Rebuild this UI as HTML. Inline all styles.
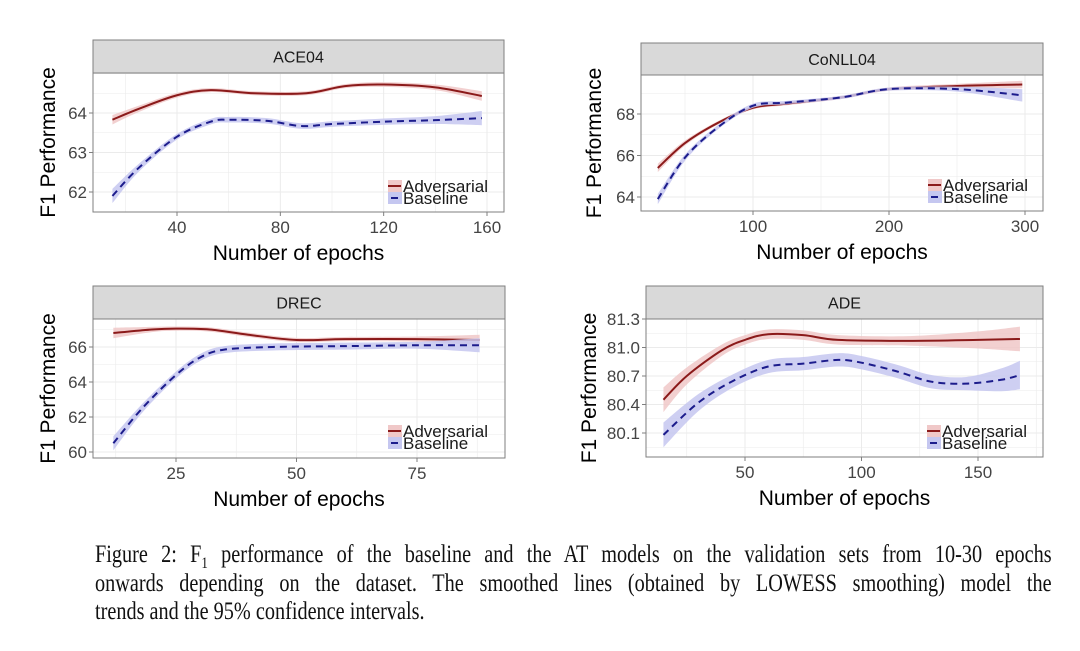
<!DOCTYPE html>
<html><head><meta charset="utf-8"><style>
body{margin:0;background:#fff;width:1080px;height:651px;overflow:hidden;font-family:"Liberation Sans",sans-serif}
svg{position:absolute;left:0;top:0}
.cap{position:absolute;left:95px;width:1181px;transform:scaleX(0.81);transform-origin:left top;font-family:"Liberation Serif",serif;font-size:25px;color:#111;white-space:nowrap}
.j{text-align:justify;text-align-last:justify}
</style></head><body>
<svg id="fig" width="1080" height="651" xmlns="http://www.w3.org/2000/svg"></svg>
<div class="cap j" style="top:541px">Figure 2: F<sub style="font-size:16px">1</sub> performance of the baseline and the AT models on the validation sets from 10-30 epochs</div>
<div class="cap j" style="top:570px">onwards depending on the dataset. The smoothed lines (obtained by LOWESS smoothing) model the</div>
<div class="cap" style="top:598px">trends and the 95% confidence intervals.</div>
<script>
// ACE04
const aceAdvX=[15,25,40,53,70,90,105,120,140,158];
const aceAdvY=[63.83,64.1,64.45,64.58,64.5,64.5,64.68,64.72,64.65,64.43];
const aceAdvW=[0.12,0.08,0.06,0.05,0.05,0.05,0.05,0.06,0.07,0.12];
const aceBaseX=[15,25,40,53,60,75,88,100,120,140,158];
const aceBaseY=[61.9,62.6,63.4,63.78,63.83,63.8,63.67,63.72,63.78,63.82,63.87];
const aceBaseW=[0.18,0.1,0.07,0.07,0.07,0.07,0.07,0.07,0.08,0.1,0.18];
const aceXTicks=[40,80,120,160];const aceYTicks=[62,63,64];
// CoNLL04
const conAdvX=[30,50,75,100,125,165,200,250,298];
const conAdvY=[65.4,66.6,67.6,68.3,68.5,68.8,69.2,69.35,69.42];
const conAdvW=[0.2,0.12,0.08,0.08,0.08,0.08,0.08,0.1,0.18];
const conBaseX=[30,50,75,100,125,165,200,250,298];
const conBaseY=[63.9,65.9,67.4,68.4,68.55,68.8,69.2,69.2,68.9];
const conBaseW=[0.25,0.15,0.1,0.1,0.08,0.08,0.08,0.12,0.3];
const conXTicks=[100,200,300];const conYTicks=[64,66,68];
// DREC
const drecAdvX=[12,20,25,32,40,50,60,75,88];
const drecAdvY=[66.8,67.0,67.05,67.0,66.7,66.4,66.45,66.45,66.4];
const drecAdvW=[0.3,0.15,0.12,0.12,0.12,0.12,0.12,0.15,0.3];
const drecBaseX=[12,18,25,30,35,45,60,75,88];
const drecBaseY=[60.5,62.5,64.4,65.4,65.85,66.0,66.05,66.1,66.1];
const drecBaseW=[0.4,0.25,0.2,0.2,0.2,0.2,0.2,0.2,0.4];
const drecXTicks=[25,50,75];const drecYTicks=[60,62,64,66];
// ADE
const adeAdvX=[15,25,40,50,60,75,90,120,150,168];
const adeAdvY=[80.45,80.7,80.97,81.08,81.14,81.13,81.08,81.07,81.08,81.09];
const adeAdvW=[0.13,0.09,0.06,0.05,0.05,0.05,0.05,0.05,0.09,0.13];
const adeBaseX=[15,30,45,60,75,90,100,115,130,145,160,168];
const adeBaseY=[80.08,80.42,80.65,80.8,80.83,80.87,80.84,80.75,80.64,80.62,80.66,80.71];
const adeBaseW=[0.13,0.09,0.07,0.07,0.07,0.07,0.07,0.07,0.07,0.07,0.12,0.15];
const adeXTicks=[50,100,150];const adeYTicks=[80.1,80.4,80.7,81.0,81.3];

const NS="http://www.w3.org/2000/svg";const svg=document.getElementById('fig');
function mk(tag,at,par){const e=document.createElementNS(NS,tag);for(const k in at)e.setAttribute(k,at[k]);(par||svg).appendChild(e);return e;}
function curve(pts){let d="M"+pts[0][0]+","+pts[0][1];for(let i=0;i<pts.length-1;i++){const p0=pts[Math.max(0,i-1)],p1=pts[i],p2=pts[i+1],p3=pts[Math.min(pts.length-1,i+2)];const c1x=p1[0]+(p2[0]-p0[0])/6,c1y=p1[1]+(p2[1]-p0[1])/6,c2x=p2[0]-(p3[0]-p1[0])/6,c2y=p2[1]-(p3[1]-p1[1])/6;d+=" C"+c1x+","+c1y+" "+c2x+","+c2y+" "+p2[0]+","+p2[1];}return d;}
function panel(o){
 const g=mk('g',{});
 const sx=v=>o.px0+(v-o.x0)*(o.px1-o.px0)/(o.x1-o.x0);
 const sy=v=>o.py0+(v-o.y0)*(o.py1-o.py0)/(o.y1-o.y0);
 const s=mk('rect',{x:o.L,y:o.ST,width:o.R-o.L,height:o.T-o.ST,fill:'#d9d9d9',stroke:'#7f7f7f','stroke-width':1},g);
 
 const st=mk('text',{x:(o.L+o.R)/2,y:(o.ST+o.T)/2+6,'text-anchor':'middle','font-size':16,fill:'#1a1a1a'},g);st.textContent=o.title;
 
 mk('rect',{x:o.L,y:o.T,width:o.R-o.L,height:o.B-o.T,fill:'#fff'},g);
 const cp='c'+o.id;const cl=mk('clipPath',{id:cp},g);mk('rect',{x:o.L,y:o.T,width:o.R-o.L,height:o.B-o.T},cl);
 const xs=o.xt,ys=o.yt;const dx=xs[1]-xs[0],dy=ys[1]-ys[0];
 for(let v=xs[0]-dx*2;v<=xs[xs.length-1]+dx;v+=dx/2){const X=sx(v);if(X>o.L&&X<o.R)mk('line',{x1:X,x2:X,y1:o.T,y2:o.B,stroke:'#ebebeb','stroke-width':Math.abs((v-xs[0])/dx%1)<1e-6?1:0.6},g);}
 for(let v=ys[0]-dy*2;v<=ys[ys.length-1]+dy;v+=dy/2){const Y=sy(v);if(Y>o.T&&Y<o.B)mk('line',{x1:o.L,x2:o.R,y1:Y,y2:Y,stroke:'#ebebeb','stroke-width':Math.abs(((v-ys[0])/dy)%1)<1e-6?1:0.6},g);}
 const series=[[o.aX,o.aY,o.aW,'#f0c8c8','#8b1a1a',null,'adversarial'],[o.bX,o.bY,o.bW,'#c5c7f0','#1c1c8c','7,5','baseline']];
 for(const [X,Y,W,fc,lc,da,nm] of series){
  const up=X.map((x,i)=>[sx(x),sy(Y[i]+W[i])]),lo=X.map((x,i)=>[sx(x),sy(Y[i]-W[i])]).reverse();
  const band=curve(up)+" L"+lo[0][0]+","+lo[0][1]+curve(lo).slice(curve(lo).indexOf(' '))+"Z";
  const b=mk('path',{d:band,fill:fc,opacity:0.85,'clip-path':'url(#'+cp+')'},g);
  
  const l=mk('path',{d:curve(X.map((x,i)=>[sx(x),sy(Y[i])])),fill:'none',stroke:lc,'stroke-width':2,'stroke-dasharray':da||'none','clip-path':'url(#'+cp+')'},g);
  
 }
 mk('rect',{x:o.L,y:o.T,width:o.R-o.L,height:o.B-o.T,fill:'none',stroke:'#7f7f7f','stroke-width':1},g);
 for(const v of xs){const X=sx(v);mk('line',{x1:X,x2:X,y1:o.B,y2:o.B+4,stroke:'#7f7f7f'},g);
  const t=mk('text',{x:X,y:o.B+21,'text-anchor':'middle','font-size':17,fill:'#444'},g);t.textContent=v;
  }
 for(const v of ys){const Y=sy(v);mk('line',{x1:o.L-4,x2:o.L,y1:Y,y2:Y,stroke:'#7f7f7f'},g);
  const t=mk('text',{x:o.L-6,y:Y+6,'text-anchor':'end','font-size':17,fill:'#444'},g);t.textContent=o.yl?v.toFixed(1):v;
  }
 const xt=mk('text',{x:(o.L+o.R)/2,y:o.B+48,'text-anchor':'middle','font-size':21,fill:'#000'},g);xt.textContent='Number of epochs';
 
 const cy=(o.T+o.B)/2;const yt=mk('text',{x:o.ytx,y:cy,'text-anchor':'middle','font-size':21,fill:'#000',transform:'rotate(-90 '+o.ytx+' '+cy+')'},g);yt.textContent='F1 Performance';
 
 const lg=mk('g',{},g);
 const lx=o.lgx,ly=o.lgy;
 mk('rect',{x:lx,y:ly,width:14,height:12,fill:'#f0c8c8'},lg);mk('line',{x1:lx,x2:lx+13,y1:ly+6,y2:ly+6,stroke:'#8b1a1a','stroke-width':2},lg);
 mk('rect',{x:lx,y:ly+12,width:14,height:12,fill:'#c5c7f0'},lg);mk('line',{x1:lx+3,x2:lx+10,y1:ly+18,y2:ly+18,stroke:'#1c1c8c','stroke-width':2},lg);
 const a=mk('text',{x:lx+15,y:ly+12,'font-size':17,fill:'#1a1a1a'},lg);a.textContent='Adversarial';
 const bb=mk('text',{x:lx+15,y:ly+24,'font-size':17,fill:'#1a1a1a'},lg);bb.textContent='Baseline';
}
panel({id:'ace04',title:'ACE04',L:93,R:504,ST:40,T:73,B:212,x0:40,x1:160,px0:177,px1:487,y0:62,y1:64,py0:192,py1:113,xt:aceXTicks,yt:aceYTicks,aX:aceAdvX,aY:aceAdvY,aW:aceAdvW,bX:aceBaseX,bY:aceBaseY,bW:aceBaseW,ytx:55,lgx:388,lgy:180});
panel({id:'conll04',title:'CoNLL04',L:641,R:1043,ST:43,T:75,B:211,x0:100,x1:300,px0:753,px1:1025,y0:64,y1:68,py0:197,py1:114,xt:conXTicks,yt:conYTicks,aX:conAdvX,aY:conAdvY,aW:conAdvW,bX:conBaseX,bY:conBaseY,bW:conBaseW,ytx:601,lgx:928,lgy:179});
panel({id:'drec',title:'DREC',L:93,R:505,ST:286,T:319,B:458,x0:25,x1:75,px0:176,px1:417,y0:60,y1:66,py0:452,py1:347,xt:drecXTicks,yt:drecYTicks,aX:drecAdvX,aY:drecAdvY,aW:drecAdvW,bX:drecBaseX,bY:drecBaseY,bW:drecBaseW,ytx:55,lgx:388,lgy:425});
panel({id:'ade',title:'ADE',L:646,R:1043,ST:286,T:319,B:457,x0:50,x1:150,px0:745,px1:978,y0:80.1,y1:81.3,py0:433,py1:319,xt:adeXTicks,yt:adeYTicks,yl:true,aX:adeAdvX,aY:adeAdvY,aW:adeAdvW,bX:adeBaseX,bY:adeBaseY,bW:adeBaseW,ytx:596,lgx:927,lgy:425});
</script>
</body></html>
